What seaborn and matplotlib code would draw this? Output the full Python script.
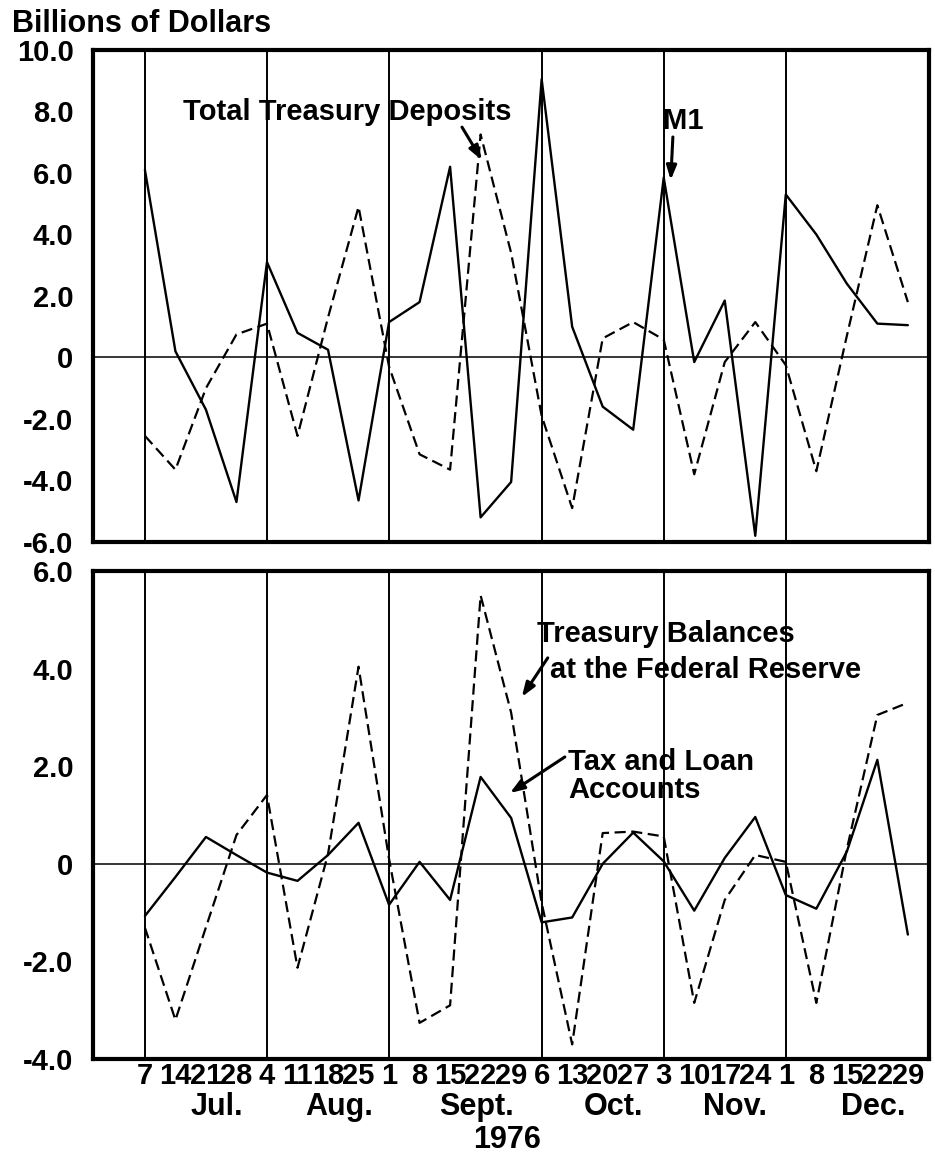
import numpy as np
import pandas as pd
import seaborn as sns
import matplotlib.pyplot as plt
import matplotlib.transforms as mtransforms

# weekly Wednesdays, Jun 30 (unlabelled tick) .. Dec 29 1976
day_labels = ['', '7', '14', '21', '28', '4', '11', '18', '25', '1', '8', '15', '22', '29',
              '6', '13', '20', '27', '3', '10', '17', '24', '1', '8', '15', '22', '29']
months = ['Jul.', 'Aug.', 'Sept.', 'Oct.', 'Nov.', 'Dec.']
month_start = [1, 5, 9, 14, 18, 22]
year_label = '1976'

# top panel (billions of dollars, weekly change)
m1 = [6.1, 0.2, -1.7, -4.7, 3.1, 0.8, 0.25, -4.65, 1.15, 1.8, 6.2, -5.2, -4.05,
      9.05, 1.0, -1.6, -2.35, 5.85, -0.15, 1.85, -5.8, 5.3, 4.0, 2.4, 1.1, 1.05]
total_deposits = [-2.55, -3.65, -1.0, 0.75, 1.1, -2.55, 1.3, 4.9, -0.3, -3.15, -3.65, 7.25, 3.4,
                  -1.9, -4.9, 0.62, 1.15, 0.58, -3.8, -0.15, 1.15, -0.25, -3.7, 0.7, 4.95, 1.8]

# bottom panel
tax_loan = [-1.07, -0.27, 0.55, 0.18, -0.18, -0.35, 0.18, 0.84, -0.84, 0.04, -0.74, 1.78, 0.94,
            -1.2, -1.1, 0.0, 0.64, 0.05, -0.96, 0.12, 0.96, -0.64, -0.92, 0.25, 2.13, -1.45]
fed_balances = [-1.31, -3.2, -1.3, 0.59, 1.41, -2.13, 0.2, 4.04, 0.1, -3.26, -2.9, 5.5, 3.1,
                -0.8, -3.7, 0.63, 0.66, 0.56, -2.85, -0.74, 0.18, 0.04, -2.85, 0.3, 3.05, 3.3]

top_ticks = [-6, -4, -2, 0, 2, 4, 6, 8, 10]
top_ticklabels = ['-6.0', '-4.0', '-2.0', '0', '2.0', '4.0', '6.0', '8.0', '10.0']
bot_ticks = [-4, -2, 0, 2, 4, 6]
bot_ticklabels = ['-4.0', '-2.0', '0', '2.0', '4.0', '6.0']

weeks = np.arange(1, len(m1) + 1)
top = pd.DataFrame({'week': weeks, 'M1': m1, 'Total Treasury Deposits': total_deposits})
bot = pd.DataFrame({'week': weeks, 'Tax and Loan Accounts': tax_loan,
                    'Treasury Balances at the Federal Reserve': fed_balances})

sns.set_theme(style='white')
plt.rcParams['font.family'] = ['Liberation Sans', 'DejaVu Sans']
plt.rcParams['font.weight'] = 'bold'
for key in ['text.color', 'axes.labelcolor', 'xtick.color', 'ytick.color']:
    plt.rcParams[key] = 'black'

fig = plt.figure(figsize=(9.35, 11.59), dpi=100)
ax1 = fig.add_axes([0.0995, 0.5324, 0.894, 0.4245])
ax2 = fig.add_axes([0.0995, 0.0863, 0.894, 0.421])

dash = (0, (5, 2.5))
sns.lineplot(data=top, x='week', y='M1', ax=ax1, color='black', lw=1.7)
sns.lineplot(data=top, x='week', y='Total Treasury Deposits', ax=ax1, color='black',
             lw=1.6, linestyle=dash)
sns.lineplot(data=bot, x='week', y='Tax and Loan Accounts', ax=ax2, color='black', lw=1.7)
sns.lineplot(data=bot, x='week', y='Treasury Balances at the Federal Reserve', ax=ax2,
             color='black', lw=1.6, linestyle=dash)

for ax, yt, ytl, ylim in [(ax1, top_ticks, top_ticklabels, (-6, 10)),
                          (ax2, bot_ticks, bot_ticklabels, (-4, 6))]:
    ax.set_xlim(-0.70, 26.69)
    ax.set_ylim(*ylim)
    ax.axhline(0, color='black', lw=1.1, zorder=1)
    for m in month_start:
        ax.axvline(m, color='black', lw=1.4, zorder=1)
    ax.set_xticks(range(len(day_labels)))
    ax.set_yticks(yt)
    ax.set_yticklabels(ytl)
    ax.set_xlabel('')
    ax.set_ylabel('')
    ax.tick_params(axis='x', direction='in', length=11, width=1.5, pad=2, labelsize=21)
    ax.tick_params(axis='y', direction='in', length=13, width=1.5, pad=14, labelsize=21)
    for s in ax.spines.values():
        s.set_visible(True)
        s.set_color('black')
        s.set_linewidth(3)

ax1.set_xticklabels([''] * len(day_labels))
ax2.set_xticklabels(day_labels)

# month names under the day numbers
trans = mtransforms.blended_transform_factory(ax2.transData, ax2.transAxes)
bounds = month_start + [len(day_labels)]
for i, name in enumerate(months):
    mid = np.mean(range(bounds[i], bounds[i + 1])) + 0.85
    ax2.text(mid, -0.115, name, transform=trans, ha='center', va='baseline', fontsize=22)
fig.text(0.542, 4 / 1159, year_label, ha='center', va='bottom', fontsize=22)

fig.text(12 / 935, 1 - 32 / 1159, 'Billions of Dollars', ha='left', va='baseline', fontsize=22)

arrow = dict(arrowstyle='-|>,head_length=0.7,head_width=0.25', color='black', lw=2.2,
             shrinkA=0, shrinkB=0)
ax1.text(2.24, 7.72, 'Total Treasury Deposits', ha='left', va='baseline', fontsize=21)
ax1.annotate('', xy=(12.04, 6.42), xytext=(11.39, 7.49), arrowprops=arrow)
ax1.text(17.97, 7.43, 'M1', ha='left', va='baseline', fontsize=21)
ax1.annotate('', xy=(18.23, 5.77), xytext=(18.30, 7.17), arrowprops=arrow)

ax2.text(13.84, 4.55, 'Treasury Balances', ha='left', va='baseline', fontsize=21)
ax2.text(14.27, 3.81, 'at the Federal Reserve', ha='left', va='baseline', fontsize=21)
ax2.annotate('', xy=(13.35, 3.42), xytext=(14.20, 4.22), arrowprops=arrow)
ax2.text(14.86, 1.93, 'Tax and Loan', ha='left', va='baseline', fontsize=21)
ax2.text(14.86, 1.35, 'Accounts', ha='left', va='baseline', fontsize=21)
ax2.annotate('', xy=(12.96, 1.45), xytext=(14.76, 2.19), arrowprops=arrow)

fig.savefig('out.png', dpi=100, facecolor='white')
